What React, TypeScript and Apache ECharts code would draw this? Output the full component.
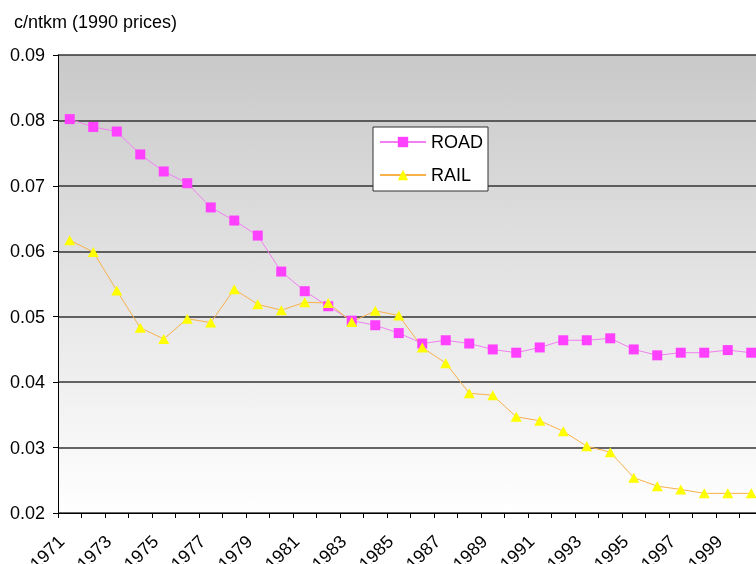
import React, { useEffect, useRef } from "react";
import * as echarts from "echarts";

const years = [
  "1971", "1972", "1973", "1974", "1975", "1976", "1977", "1978", "1979", "1980",
  "1981", "1982", "1983", "1984", "1985", "1986", "1987", "1988", "1989", "1990",
  "1991", "1992", "1993", "1994", "1995", "1996", "1997", "1998", "1999", "2000",
];

const road = [
  0.0802, 0.079, 0.0783, 0.0748, 0.0722, 0.0704, 0.0667, 0.0647, 0.0624, 0.0569,
  0.0539, 0.0516, 0.0494, 0.0487, 0.0475, 0.0459, 0.0464, 0.0459, 0.045, 0.0445,
  0.0453, 0.0464, 0.0464, 0.0467, 0.045, 0.0441, 0.0445, 0.0445, 0.0449, 0.0445,
];

const rail = [
  0.0617, 0.0599, 0.054, 0.0483, 0.0466, 0.0497, 0.0491, 0.0542, 0.0519, 0.051,
  0.0522, 0.0521, 0.0492, 0.0509, 0.0502, 0.0453, 0.0429, 0.0383, 0.038, 0.0347,
  0.0341, 0.0325, 0.0302, 0.0293, 0.0254, 0.0241, 0.0236, 0.023, 0.023, 0.023,
];

const yTitle = "c/ntkm (1990 prices)";

const FONT = "'Liberation Sans', Arial, sans-serif";
const FS = 18;

export default function App() {
  const ref = useRef<HTMLDivElement>(null);

  useEffect(() => {
    document.body.style.margin = "0";
    if (!ref.current) return;
    const chart = echarts.init(ref.current, null, { renderer: "svg" });
    chart.setOption({
      animation: false,
      textStyle: { fontFamily: FONT },
      title: {
        text: yTitle,
        left: 14,
        top: 13,
        padding: 0,
        textStyle: { fontSize: FS, fontWeight: "normal", color: "#000", fontFamily: FONT },
      },
      legend: {
        orient: "vertical",
        left: 373,
        top: 127,
        padding: [6, 5, 7, 6],
        itemGap: 15,
        itemWidth: 46,
        itemHeight: 13,
        backgroundColor: "#fff",
        borderColor: "#333",
        borderWidth: 1,
        textStyle: { fontSize: FS, color: "#000", fontFamily: FONT },
        data: ["ROAD", "RAIL"],
      },
      grid: {
        left: 58,
        top: 55,
        width: 705,
        height: 458,
        outerBoundsMode: "none",
        containLabel: false,
        show: true,
        borderWidth: 0,
        backgroundColor: new echarts.graphic.LinearGradient(0, 0, 0, 1, [
          { offset: 0, color: "#c9c9c9" },
          { offset: 1, color: "#ffffff" },
        ]),
      },
      xAxis: {
        type: "category",
        data: years,
        boundaryGap: true,
        axisLine: { lineStyle: { color: "#000", width: 1 } },
        axisTick: { show: true, interval: 0, length: 5, lineStyle: { color: "#000" } },
        axisLabel: {
          interval: 1,
          rotate: 45,
          margin: 17,
          padding: [0, 12, 0, 0],
          fontSize: FS,
          color: "#000",
          fontFamily: FONT,
          hideOverlap: false,
        },
        splitLine: { show: false },
      },
      yAxis: {
        type: "value",
        min: 0.02,
        max: 0.09,
        interval: 0.01,
        axisLine: { show: true, lineStyle: { color: "#000", width: 1 } },
        axisTick: { show: true, length: 5, lineStyle: { color: "#000" } },
        axisLabel: {
          margin: 13,
          fontSize: FS,
          color: "#000",
          fontFamily: FONT,
          formatter: (v: number) => v.toFixed(2),
        },
        splitLine: { show: true, lineStyle: { color: "#333", width: 1.5 } },
      },
      series: [
        {
          name: "ROAD",
          type: "line",
          data: road,
          symbol: "rect",
          symbolSize: 10,
          lineStyle: { color: "#f27ef2", width: 1 },
          itemStyle: { color: "#ff40ff" },
        },
        {
          name: "RAIL",
          type: "line",
          data: rail,
          symbol: "triangle",
          symbolSize: [11, 10],
          lineStyle: { color: "#f9b14a", width: 1 },
          itemStyle: { color: "#ffff00" },
        },
      ],
    });
    return () => chart.dispose();
  }, []);

  return (
    <div
      ref={ref}
      style={{ position: "fixed", left: 0, top: 0, width: 756, height: 564, overflow: "hidden" }}
    />
  );
}
